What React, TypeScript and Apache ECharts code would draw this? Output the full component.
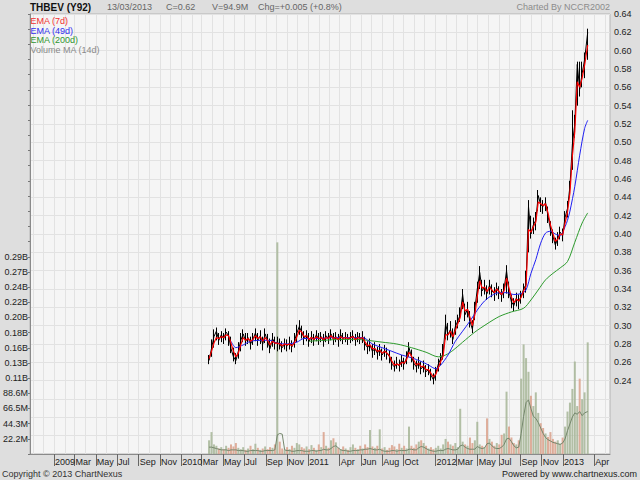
import { useEffect, useRef } from 'react';
import * as echarts from 'echarts';

const FONT = '"Liberation Sans", Arial, sans-serif';

// weekly samples, 2010-03-22 .. 2013-03-13
const weekDates = [
  '2010-03-22', '2010-03-29', '2010-04-05', '2010-04-12', '2010-04-19', '2010-04-26', '2010-05-03', '2010-05-10', '2010-05-17', '2010-05-24',
  '2010-05-31', '2010-06-07', '2010-06-14', '2010-06-21', '2010-06-28', '2010-07-05', '2010-07-12', '2010-07-19', '2010-07-26', '2010-08-02',
  '2010-08-09', '2010-08-16', '2010-08-23', '2010-08-30', '2010-09-06', '2010-09-13', '2010-09-20', '2010-09-27', '2010-10-04', '2010-10-11',
  '2010-10-18', '2010-10-25', '2010-11-01', '2010-11-08', '2010-11-15', '2010-11-22', '2010-11-29', '2010-12-06', '2010-12-13', '2010-12-20',
  '2010-12-27',
  '2011-01-03', '2011-01-10', '2011-01-17', '2011-01-24', '2011-01-31', '2011-02-07', '2011-02-14', '2011-02-21', '2011-02-28', '2011-03-07',
  '2011-03-14', '2011-03-21', '2011-03-28', '2011-04-04', '2011-04-11', '2011-04-18', '2011-04-25', '2011-05-02', '2011-05-09', '2011-05-16',
  '2011-05-23', '2011-05-30', '2011-06-06', '2011-06-13', '2011-06-20', '2011-06-27', '2011-07-04', '2011-07-11', '2011-07-18', '2011-07-25',
  '2011-08-01', '2011-08-08', '2011-08-15', '2011-08-22', '2011-08-29', '2011-09-05', '2011-09-12', '2011-09-19', '2011-09-26', '2011-10-03',
  '2011-10-10', '2011-10-17', '2011-10-24', '2011-10-31', '2011-11-07', '2011-11-14', '2011-11-21', '2011-11-28', '2011-12-05', '2011-12-12',
  '2011-12-19', '2011-12-26',
  '2012-01-02', '2012-01-09', '2012-01-16', '2012-01-23', '2012-01-30', '2012-02-06', '2012-02-13', '2012-02-20', '2012-02-27', '2012-03-05',
  '2012-03-12', '2012-03-19', '2012-03-26', '2012-04-02', '2012-04-09', '2012-04-16', '2012-04-23', '2012-04-30', '2012-05-07', '2012-05-14',
  '2012-05-21', '2012-05-28', '2012-06-04', '2012-06-11', '2012-06-18', '2012-06-25', '2012-07-02', '2012-07-09', '2012-07-16', '2012-07-23',
  '2012-07-30', '2012-08-06', '2012-08-13', '2012-08-20', '2012-08-27', '2012-09-03', '2012-09-10', '2012-09-17', '2012-09-24', '2012-10-01',
  '2012-10-08', '2012-10-15', '2012-10-22', '2012-10-29', '2012-11-05', '2012-11-12', '2012-11-19', '2012-11-26', '2012-12-03', '2012-12-10',
  '2012-12-17', '2012-12-24', '2012-12-31',
  '2013-01-07', '2013-01-14', '2013-01-21', '2013-01-28', '2013-02-04', '2013-02-11', '2013-02-18', '2013-02-25', '2013-03-04', '2013-03-13',
];

const closeValues = [
  0.262, 0.275, 0.288, 0.294, 0.284, 0.290, 0.286, 0.293, 0.289, 0.275,
  0.266, 0.262, 0.272, 0.284, 0.291, 0.283, 0.287, 0.280, 0.285, 0.292,
  0.284, 0.289, 0.280, 0.291, 0.283, 0.275, 0.286, 0.281, 0.282, 0.279,
  0.276, 0.280, 0.278, 0.281, 0.277, 0.283, 0.292, 0.299, 0.293, 0.286,
  0.290, 0.283, 0.288, 0.284, 0.290, 0.285, 0.288, 0.283, 0.289, 0.286,
  0.291, 0.285, 0.288, 0.284, 0.290, 0.286, 0.288, 0.285, 0.287, 0.289,
  0.284, 0.288, 0.286, 0.287, 0.280, 0.276, 0.279, 0.272, 0.275, 0.270,
  0.274, 0.268, 0.273, 0.270, 0.266, 0.258, 0.255, 0.259, 0.256, 0.262,
  0.258, 0.265, 0.276, 0.266, 0.259, 0.255, 0.260, 0.253, 0.256, 0.250,
  0.252, 0.246, 0.241, 0.248, 0.258, 0.264, 0.270, 0.302, 0.290, 0.296,
  0.285, 0.299, 0.305, 0.312, 0.334, 0.312, 0.318, 0.305, 0.296, 0.318,
  0.340, 0.358, 0.338, 0.342, 0.335, 0.344, 0.338, 0.335, 0.341, 0.336,
  0.333, 0.340, 0.360, 0.337, 0.326, 0.322, 0.330, 0.326, 0.332, 0.340,
  0.345, 0.430, 0.400, 0.410, 0.415, 0.442, 0.432, 0.430, 0.434, 0.420,
  0.405, 0.398, 0.388, 0.395, 0.402, 0.398, 0.418, 0.428, 0.452, 0.498,
  0.520, 0.585, 0.558, 0.575, 0.590, 0.620,
];

const highValues = [
  0.268, 0.285, 0.296, 0.298, 0.292, 0.294, 0.292, 0.297, 0.294, 0.288,
  0.276, 0.270, 0.282, 0.292, 0.296, 0.292, 0.292, 0.288, 0.292, 0.297,
  0.292, 0.295, 0.288, 0.297, 0.291, 0.286, 0.292, 0.288, 0.288, 0.286,
  0.283, 0.286, 0.285, 0.288, 0.284, 0.292, 0.301, 0.306, 0.300, 0.294,
  0.295, 0.292, 0.294, 0.291, 0.295, 0.292, 0.293, 0.291, 0.294, 0.292,
  0.296, 0.292, 0.293, 0.291, 0.296, 0.292, 0.293, 0.291, 0.293, 0.295,
  0.291, 0.293, 0.292, 0.294, 0.288, 0.283, 0.286, 0.280, 0.282, 0.277,
  0.280, 0.275, 0.279, 0.276, 0.273, 0.266, 0.262, 0.266, 0.263, 0.268,
  0.265, 0.272, 0.282, 0.274, 0.266, 0.262, 0.266, 0.261, 0.262, 0.257,
  0.258, 0.253, 0.248, 0.255, 0.264, 0.270, 0.280, 0.312, 0.303, 0.305,
  0.297, 0.306, 0.312, 0.320, 0.340, 0.324, 0.326, 0.316, 0.306, 0.326,
  0.348, 0.365, 0.350, 0.350, 0.344, 0.350, 0.345, 0.342, 0.347, 0.343,
  0.340, 0.346, 0.366, 0.348, 0.334, 0.330, 0.336, 0.334, 0.338, 0.346,
  0.360, 0.437, 0.420, 0.418, 0.424, 0.448, 0.440, 0.437, 0.440, 0.430,
  0.414, 0.405, 0.396, 0.402, 0.408, 0.406, 0.425, 0.436, 0.458, 0.535,
  0.530, 0.588, 0.588, 0.588, 0.598, 0.624,
];

const lowValues = [
  0.258, 0.266, 0.276, 0.284, 0.279, 0.282, 0.280, 0.284, 0.278, 0.270,
  0.261, 0.258, 0.264, 0.272, 0.282, 0.278, 0.280, 0.274, 0.279, 0.283,
  0.278, 0.280, 0.273, 0.281, 0.276, 0.270, 0.277, 0.274, 0.272, 0.274,
  0.271, 0.274, 0.272, 0.274, 0.271, 0.276, 0.282, 0.290, 0.286, 0.279,
  0.283, 0.277, 0.281, 0.278, 0.283, 0.279, 0.282, 0.277, 0.282, 0.280,
  0.284, 0.279, 0.282, 0.277, 0.283, 0.280, 0.282, 0.279, 0.281, 0.283,
  0.278, 0.282, 0.280, 0.281, 0.273, 0.269, 0.272, 0.265, 0.268, 0.263,
  0.267, 0.262, 0.266, 0.263, 0.259, 0.252, 0.250, 0.253, 0.250, 0.255,
  0.252, 0.258, 0.266, 0.260, 0.252, 0.249, 0.253, 0.247, 0.249, 0.244,
  0.246, 0.240, 0.236, 0.240, 0.250, 0.257, 0.263, 0.285, 0.284, 0.287,
  0.280, 0.290, 0.297, 0.304, 0.318, 0.305, 0.309, 0.298, 0.292, 0.306,
  0.325, 0.340, 0.332, 0.334, 0.328, 0.334, 0.331, 0.327, 0.333, 0.329,
  0.326, 0.330, 0.335, 0.330, 0.319, 0.316, 0.321, 0.318, 0.324, 0.330,
  0.336, 0.380, 0.395, 0.400, 0.404, 0.425, 0.424, 0.422, 0.425, 0.412,
  0.398, 0.390, 0.383, 0.387, 0.394, 0.392, 0.408, 0.418, 0.440, 0.470,
  0.505, 0.540, 0.550, 0.560, 0.570, 0.590,
];

const ema7Values = [
  0.264, 0.272, 0.281, 0.287, 0.286, 0.288, 0.287, 0.290, 0.289, 0.281,
  0.272, 0.266, 0.270, 0.279, 0.287, 0.284, 0.286, 0.283, 0.285, 0.289,
  0.286, 0.288, 0.283, 0.287, 0.284, 0.279, 0.283, 0.281, 0.281, 0.280,
  0.278, 0.280, 0.279, 0.280, 0.278, 0.281, 0.288, 0.295, 0.293, 0.288,
  0.289, 0.285, 0.287, 0.285, 0.288, 0.286, 0.287, 0.285, 0.287, 0.286,
  0.289, 0.286, 0.287, 0.285, 0.288, 0.286, 0.287, 0.286, 0.287, 0.288,
  0.285, 0.287, 0.286, 0.287, 0.282, 0.278, 0.279, 0.275, 0.275, 0.272,
  0.273, 0.270, 0.272, 0.270, 0.267, 0.261, 0.257, 0.258, 0.257, 0.260,
  0.259, 0.263, 0.271, 0.267, 0.262, 0.257, 0.259, 0.255, 0.256, 0.252,
  0.252, 0.248, 0.244, 0.247, 0.254, 0.261, 0.267, 0.290, 0.290, 0.294,
  0.288, 0.295, 0.302, 0.309, 0.326, 0.316, 0.318, 0.309, 0.300, 0.312,
  0.332, 0.349, 0.341, 0.342, 0.337, 0.342, 0.339, 0.336, 0.340, 0.337,
  0.334, 0.338, 0.352, 0.341, 0.331, 0.325, 0.329, 0.327, 0.331, 0.338,
  0.343, 0.405, 0.402, 0.408, 0.413, 0.435, 0.433, 0.431, 0.433, 0.423,
  0.410, 0.401, 0.392, 0.394, 0.400, 0.399, 0.412, 0.424, 0.445, 0.485,
  0.512, 0.566, 0.560, 0.570, 0.584, 0.606,
];

// volume in millions
const volumeValues = [
  20, 32, 14, 12, 8, 10, 7, 12, 9, 14,
  11, 16, 9, 7, 10, 6, 8, 12, 7, 15,
  9, 6, 8, 11, 7, 10, 9, 14, 309, 18,
  8, 6, 10, 7, 12, 9, 16, 14, 10, 8,
  11, 7, 13, 9, 6, 14, 10, 32, 12, 9,
  20, 23, 17, 9, 7, 11, 8, 6, 10, 14,
  9, 7, 12, 8, 14, 10, 35, 11, 9, 12,
  36, 8, 10, 6, 9, 13, 11, 7, 15, 9,
  12, 8, 40, 12, 9, 14, 18, 20, 16, 12,
  8, 10, 7, 9, 12, 8, 14, 22, 18, 14,
  12, 16, 10, 66, 18, 14, 12, 24, 16, 20,
  47, 14, 12, 10, 52, 22, 18, 12, 16, 14,
  28, 30, 91, 40, 24, 16, 14, 20, 110, 160,
  140, 120, 85, 70, 90, 60, 45, 38, 30, 25,
  32, 22, 18, 20, 15, 24, 40, 62, 75, 95,
  135, 70, 110, 80, 90, 163,
];

const volumeMaValues = [
  10, 10, 9, 8, 7, 6, 6, 6, 5, 6,
  6, 6, 5, 5, 5, 4, 4, 5, 5, 5,
  5, 4, 4, 5, 5, 5, 5, 6, 28, 30,
  29, 6, 5, 5, 4, 4, 5, 5, 5, 4,
  4, 4, 5, 5, 4, 5, 5, 7, 6, 6,
  8, 11, 12, 9, 6, 5, 5, 4, 4, 5,
  5, 5, 6, 6, 7, 7, 8, 7, 6, 6,
  7, 5, 4, 4, 4, 5, 5, 4, 5, 5,
  5, 5, 7, 7, 6, 6, 9, 11, 10, 8,
  6, 5, 4, 4, 5, 5, 5, 7, 8, 7,
  6, 6, 7, 12, 13, 10, 8, 7, 7, 7,
  11, 9, 8, 9, 15, 16, 12, 9, 8, 8,
  10, 14, 22, 23, 18, 12, 9, 10, 30, 55,
  75, 79, 66, 55, 52, 46, 38, 30, 24, 21,
  19, 17, 16, 15, 14, 16, 22, 34, 44, 54,
  60, 58, 62, 56, 60, 62,
];

const ema49Dates = [
  '2010-05-24', '2010-06-07', '2010-06-28', '2010-07-19', '2010-08-16', '2010-09-13', '2010-10-04', '2010-11-01', '2010-11-29', '2010-12-20',
  '2011-01-31', '2011-03-14', '2011-04-25', '2011-06-06', '2011-07-04', '2011-08-01', '2011-08-29', '2011-09-26', '2011-10-24', '2011-11-21', '2011-12-12',
  '2012-01-02', '2012-01-16', '2012-02-06', '2012-02-27', '2012-03-19', '2012-04-09', '2012-04-30', '2012-05-21', '2012-06-11', '2012-07-02',
  '2012-07-23', '2012-08-13', '2012-09-03', '2012-09-17', '2012-10-01', '2012-10-15', '2012-10-29', '2012-11-12', '2012-11-26', '2012-12-10', '2012-12-24',
  '2013-01-07', '2013-01-14', '2013-01-21', '2013-02-04', '2013-02-18', '2013-03-04', '2013-03-13',
];
const ema49Values = [
  0.283, 0.276, 0.279, 0.283, 0.284, 0.284, 0.281, 0.280, 0.282, 0.286,
  0.286, 0.287, 0.287, 0.287, 0.280, 0.276, 0.272, 0.268, 0.265, 0.261, 0.257,
  0.253, 0.257, 0.268, 0.283, 0.294, 0.305, 0.317, 0.327, 0.333, 0.336,
  0.336, 0.334, 0.335, 0.339, 0.357, 0.372, 0.390, 0.401, 0.403, 0.400, 0.398,
  0.408, 0.415, 0.425, 0.452, 0.486, 0.515, 0.524,
];

const ema200Dates = [
  '2011-01-03', '2011-02-14', '2011-04-04', '2011-05-23', '2011-06-20', '2011-08-01', '2011-09-12', '2011-10-24', '2011-12-05',
  '2012-01-09', '2012-01-30', '2012-02-20', '2012-03-19', '2012-04-23', '2012-05-28', '2012-07-02', '2012-08-06', '2012-09-10',
  '2012-10-01', '2012-10-22', '2012-11-12', '2012-12-03', '2012-12-24', '2013-01-14', '2013-02-04', '2013-02-25', '2013-03-13',
];
const ema200Values = [
  0.283, 0.284, 0.285, 0.285, 0.284, 0.282, 0.280, 0.276, 0.271,
  0.266, 0.268, 0.273, 0.282, 0.293, 0.302, 0.310, 0.315, 0.319,
  0.328, 0.339, 0.350, 0.357, 0.363, 0.370, 0.391, 0.412, 0.423,
];

const monthTickDates = [
  '2009-01-01', '2009-03-01', '2009-05-01', '2009-07-01', '2009-09-01', '2009-11-01',
  '2010-01-01', '2010-03-01', '2010-05-01', '2010-07-01', '2010-09-01', '2010-11-01',
  '2011-01-01', '2011-04-01', '2011-06-01', '2011-08-01', '2011-10-01',
  '2012-01-01', '2012-03-01', '2012-05-01', '2012-07-01', '2012-09-01', '2012-11-01',
  '2013-01-01', '2013-04-01',
];
const monthTickLabels = [
  '2009', 'Mar', 'May', 'Jul', 'Sep', 'Nov',
  '2010', 'Mar', 'May', 'Jul', 'Sep', 'Nov',
  '2011', 'Apr', 'Jun', 'Aug', 'Oct',
  '2012', 'Mar', 'May', 'Jul', 'Sep', 'Nov',
  '2013', 'Apr',
];

const volumeTickLabels = ['22.2M', '44.3M', '66.5M', '88.6M', '0.11B', '0.13B', '0.16B', '0.18B', '0.20B', '0.22B', '0.24B', '0.27B', '0.29B'];

const headerTexts = ['13/03/2013', 'C=0.62', 'V=94.9M', 'Chg=+0.005 (+0.8%)'];

const X_MIN = '2008-10-24';
const X_MAX = '2013-05-16';
const VOL_STEP = 22.15;

const ts = (d: string) => +echarts.time.parse(d);

export default function App() {
  const chartRef = useRef<HTMLDivElement>(null);

  useEffect(() => {
    if (!chartRef.current) return;
    document.body.style.margin = '0';
    const chart = echarts.init(chartRef.current, null, { renderer: 'svg' });

    const tickTimes = monthTickDates.map(ts);
    const labelByTime = new Map<number, string>();
    tickTimes.forEach((t, i) => labelByTime.set(t, monthTickLabels[i]));

    // every month start, for the vertical grid
    const gridMonths: number[] = [];
    for (let y = 2008; y <= 2013; y++) {
      for (let m = 1; m <= 12; m++) {
        const s = `${y}-${String(m).padStart(2, '0')}-01`;
        if (s >= '2008-11-01' && s <= '2013-05-01') gridMonths.push(ts(s));
      }
    }

    const pair = (dates: string[], vals: number[]) => dates.map((d, i) => [ts(d), vals[i]]);
    const rangeData = weekDates.map((d, i) => [ts(d), closeValues[i], closeValues[i], lowValues[i], highValues[i]]);
    const xMin = ts(X_MIN);
    const xMax = ts(X_MAX);
    const small = `9px ${FONT}`;

    chart.setOption({
      animation: false,
      backgroundColor: '#dedede',
      textStyle: { fontFamily: FONT },
      grid: {
        left: 28, right: 30, top: 14, bottom: 26,
        show: true, backgroundColor: '#f5f5f5', borderColor: '#b4b4b4', borderWidth: 1,
      },
      xAxis: [
        {
          type: 'value', min: xMin, max: xMax, scale: true,
          axisLine: { show: true, onZero: false, lineStyle: { color: '#8a8a8a' } },
          axisTick: { show: true, length: 12, customValues: tickTimes, lineStyle: { color: '#666' } },
          axisLabel: {
            customValues: tickTimes,
            formatter: (v: number) => labelByTime.get(v) ?? '',
            align: 'left', margin: 3, padding: [0, 0, 0, 1],
            fontSize: 9, color: '#222', fontFamily: FONT, hideOverlap: false,
            showMinLabel: true, showMaxLabel: true,
          },
          splitLine: { show: false },
        },
        {
          type: 'value', min: xMin, max: xMax, scale: true, position: 'bottom',
          axisLine: { show: false },
          axisTick: { show: false, customValues: gridMonths },
          axisLabel: { show: false },
          splitLine: { show: true, lineStyle: { color: '#e2e2e2', width: 1 } },
        },
      ],
      yAxis: [
        {
          type: 'value', position: 'left', min: 0, max: VOL_STEP * 29, interval: VOL_STEP,
          axisLine: { show: true, lineStyle: { color: '#8a8a8a' } },
          axisTick: { show: true, length: 2, lineStyle: { color: '#777' } },
          axisLabel: {
            margin: 2, fontSize: 9, color: '#222', fontFamily: FONT,
            formatter: (v: number) => {
              const k = Math.round(v / VOL_STEP);
              return k >= 1 && k <= volumeTickLabels.length ? volumeTickLabels[k - 1] : '';
            },
          },
          splitLine: { show: false },
        },
        {
          type: 'value', position: 'right', min: 0.16, max: 0.64, interval: 0.02,
          axisLine: { show: false },
          axisTick: { show: false },
          axisLabel: {
            margin: 4, fontSize: 9, color: '#222', fontFamily: FONT,
            formatter: (v: number) => (v >= 0.239 ? v.toFixed(2) : ''),
          },
          splitLine: { show: true, lineStyle: { color: '#e2e2e2' } },
        },
      ],
      series: [
        {
          name: 'Volume', type: 'bar', xAxisIndex: 0, yAxisIndex: 0,
          data: pair(weekDates, volumeValues), barWidth: 2,
          itemStyle: {
            color: (p: any) => {
              const i = p.dataIndex;
              return i > 0 && closeValues[i] < closeValues[i - 1] ? '#d9a08a' : '#a6b596';
            },
            opacity: 0.85,
          },
        },
        {
          name: 'Volume MA (14d)', type: 'line', xAxisIndex: 0, yAxisIndex: 0,
          data: pair(weekDates, volumeMaValues), showSymbol: false,
          lineStyle: { color: '#74866c', width: 1 },
        },
        {
          name: 'Range', type: 'candlestick', xAxisIndex: 0, yAxisIndex: 1,
          data: rangeData, encode: { x: 0, y: [1, 2, 3, 4] }, barWidth: 1,
          itemStyle: { color: '#000', color0: '#000', borderColor: '#000', borderColor0: '#000', borderWidth: 1 },
        },
        {
          name: 'Price', type: 'line', xAxisIndex: 0, yAxisIndex: 1,
          data: pair(weekDates, closeValues), showSymbol: false,
          lineStyle: { color: '#000', width: 1 },
        },
        {
          name: 'EMA (200d)', type: 'line', xAxisIndex: 0, yAxisIndex: 1,
          data: pair(ema200Dates, ema200Values), showSymbol: false, smooth: 0.3,
          lineStyle: { color: '#2c9a2c', width: 1 },
        },
        {
          name: 'EMA (49d)', type: 'line', xAxisIndex: 0, yAxisIndex: 1,
          data: pair(ema49Dates, ema49Values), showSymbol: false, smooth: 0.3,
          lineStyle: { color: '#1f1ff2', width: 1 },
        },
        {
          name: 'EMA (7d)', type: 'line', xAxisIndex: 0, yAxisIndex: 1,
          data: pair(weekDates, ema7Values), showSymbol: false,
          lineStyle: { color: '#ff0000', width: 1.2 },
        },
      ],
      graphic: [
        { type: 'text', z: 100, x: 30, y: 7, style: { text: 'THBEV (Y92)', fill: '#111', font: `bold 10px ${FONT}`, verticalAlign: 'middle' } },
        { type: 'text', z: 100, x: 107, y: 7, style: { text: headerTexts[0], fill: '#666', font: small, verticalAlign: 'middle' } },
        { type: 'text', z: 100, x: 166, y: 7, style: { text: headerTexts[1], fill: '#666', font: small, verticalAlign: 'middle' } },
        { type: 'text', z: 100, x: 212, y: 7, style: { text: headerTexts[2], fill: '#666', font: small, verticalAlign: 'middle' } },
        { type: 'text', z: 100, x: 258, y: 7, style: { text: headerTexts[3], fill: '#666', font: small, verticalAlign: 'middle' } },
        { type: 'text', z: 100, x: 610, y: 7, style: { text: 'Charted By NCCR2002', fill: '#8c8c8c', font: small, verticalAlign: 'middle', align: 'right' } },
        { type: 'text', z: 100, x: 30.5, y: 21, style: { text: 'EMA (7d)', fill: '#f23030', font: small, verticalAlign: 'middle' } },
        { type: 'text', z: 100, x: 30.5, y: 30.5, style: { text: 'EMA (49d)', fill: '#3030ee', font: small, verticalAlign: 'middle' } },
        { type: 'text', z: 100, x: 30.5, y: 40, style: { text: 'EMA (200d)', fill: '#2f962f', font: small, verticalAlign: 'middle' } },
        { type: 'text', z: 100, x: 30.5, y: 49.5, style: { text: 'Volume MA (14d)', fill: '#8a8a8a', font: small, verticalAlign: 'middle' } },
        { type: 'text', z: 100, x: 2, y: 474, style: { text: 'Copyright © 2013 ChartNexus', fill: '#333', font: small, verticalAlign: 'middle' } },
        { type: 'text', z: 100, x: 637, y: 474, style: { text: 'Powered by www.chartnexus.com', fill: '#222', font: small, verticalAlign: 'middle', align: 'right' } },
      ],
    });

    return () => chart.dispose();
  }, []);

  return <div ref={chartRef} style={{ width: 640, height: 480 }} />;
}
